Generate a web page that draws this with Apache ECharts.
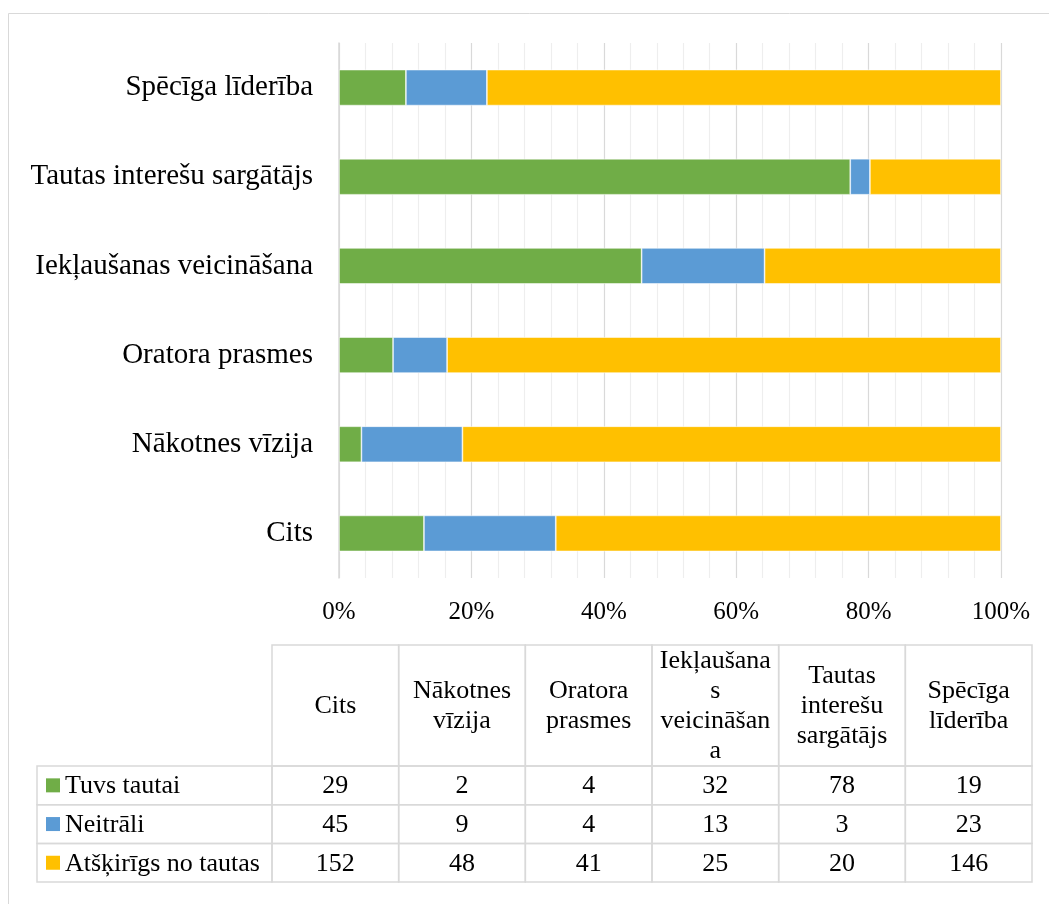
<!DOCTYPE html>
<html>
<head>
<meta charset="utf-8">
<script src="https://cdn.jsdelivr.net/npm/echarts@6/dist/echarts.min.js"></script>
<style>
  html, body { margin: 0; padding: 0; background: #fff; }
  #chart { width: 1049px; height: 904px; }
</style>
</head>
<body>
<div id="chart"></div>
<script>
// kategorijas (no apakšas uz augšu) un tabulas galvene
var categories = ['Cits', 'Nākotnes vīzija', 'Oratora prasmes', 'Iekļaušanas veicināšana', 'Tautas interešu sargātājs', 'Spēcīga līderība'];
var headerLabels = ['Cits', 'Nākotnes\nvīzija', 'Oratora\nprasmes', 'Iekļaušana\ns\nveicināšan\na', 'Tautas\ninterešu\nsargātājs', 'Spēcīga\nlīderība'];
var seriesNames = ['Tuvs tautai', 'Neitrāli', 'Atšķirīgs no tautas'];
var tuvsTautai = [29, 2, 4, 32, 78, 19];
var neitrali = [45, 9, 4, 13, 3, 23];
var atskirigs = [152, 48, 41, 25, 20, 146];
var xTicks = [0, 20, 40, 60, 80, 100];

var colors = ['#70AD47', '#5B9BD5', '#FFC000'];
var font = '"Liberation Serif", "Times New Roman", serif';
var raw = [tuvsTautai, neitrali, atskirigs];

// 100% sakrautas joslas
var totals = categories.map(function (c, i) {
  return tuvsTautai[i] + neitrali[i] + atskirigs[i];
});
function pct(arr) {
  return arr.map(function (v, i) { return v / totals[i] * 100; });
}

// tabulas izkārtojums
var labelLeft = 37, colLeft = 272, colRight = 1032;
var colW = (colRight - colLeft) / categories.length;
var headTop = 645, headBottom = 766, rowH = 38.7;
var lineColor = '#d9d9d9';

var graphics = [];
// ārējā rāmja līnija
graphics.push({
  type: 'rect', shape: { x: 8.5, y: 13.5, width: 1100, height: 1000 },
  style: { fill: 'none', stroke: lineColor, lineWidth: 1 }, silent: true
});
categories.forEach(function (c, i) {
  var x = colLeft + i * colW;
  graphics.push({
    type: 'rect', shape: { x: x, y: headTop, width: colW, height: headBottom - headTop },
    style: { fill: 'none', stroke: lineColor, lineWidth: 1.5 }
  });
  graphics.push({
    type: 'text',
    style: {
      text: headerLabels[i], x: x + colW / 2, y: (headTop + headBottom) / 2 + 1,
      align: 'center', verticalAlign: 'middle', lineHeight: 30,
      font: '26px ' + font, fill: '#000'
    }
  });
});
seriesNames.forEach(function (name, r) {
  var y = headBottom + r * rowH;
  graphics.push({
    type: 'rect', shape: { x: labelLeft, y: y, width: colLeft - labelLeft, height: rowH },
    style: { fill: 'none', stroke: lineColor, lineWidth: 1.5 }
  });
  graphics.push({
    type: 'rect', shape: { x: 46, y: y + rowH / 2 - 7, width: 14, height: 14 },
    style: { fill: colors[r] }
  });
  graphics.push({
    type: 'text',
    style: {
      text: name, x: 65, y: y + rowH / 2 + 1, align: 'left', verticalAlign: 'middle',
      font: '26px ' + font, fill: '#000'
    }
  });
  categories.forEach(function (c, i) {
    var x = colLeft + i * colW;
    graphics.push({
      type: 'rect', shape: { x: x, y: y, width: colW, height: rowH },
      style: { fill: 'none', stroke: lineColor, lineWidth: 1.5 }
    });
    graphics.push({
      type: 'text',
      style: {
        text: String(raw[r][i]), x: x + colW / 2, y: y + rowH / 2 + 1,
        align: 'center', verticalAlign: 'middle',
        font: '26px ' + font, fill: '#000'
      }
    });
  });
});

var myChart = echarts.init(document.getElementById('chart'));
var option = {
  backgroundColor: '#fff',
  animation: false,
  color: colors,
  grid: { left: 339, right: 48, top: 43, bottom: 326, containLabel: false },
  xAxis: {
    type: 'value',
    min: xTicks[0],
    max: xTicks[xTicks.length - 1],
    interval: xTicks[1] - xTicks[0],
    axisLine: { show: false },
    axisTick: { show: false },
    axisLabel: {
      formatter: '{value}%', margin: 22,
      fontFamily: font, fontSize: 25, color: '#000'
    },
    splitLine: { lineStyle: { color: '#d9d9d9', width: 1.2 } },
    minorTick: { show: false, splitNumber: 5 },
    minorSplitLine: { show: true, lineStyle: { color: '#eeeeee', width: 1.2 } }
  },
  yAxis: {
    type: 'category',
    data: categories,
    axisLine: { show: true, lineStyle: { color: '#d9d9d9', width: 1.5 } },
    axisTick: { show: false },
    axisLabel: { margin: 26, fontFamily: font, fontSize: 29, color: '#000' }
  },
  series: seriesNames.map(function (name, k) {
    return {
      name: name,
      type: 'bar',
      stack: 'total',
      barWidth: 36,
      data: pct(raw[k]),
      itemStyle: { borderColor: 'rgba(255,255,255,0.7)', borderWidth: 0.75 }
    };
  }),
  graphic: graphics
};
myChart.setOption(option);
</script>
</body>
</html>
